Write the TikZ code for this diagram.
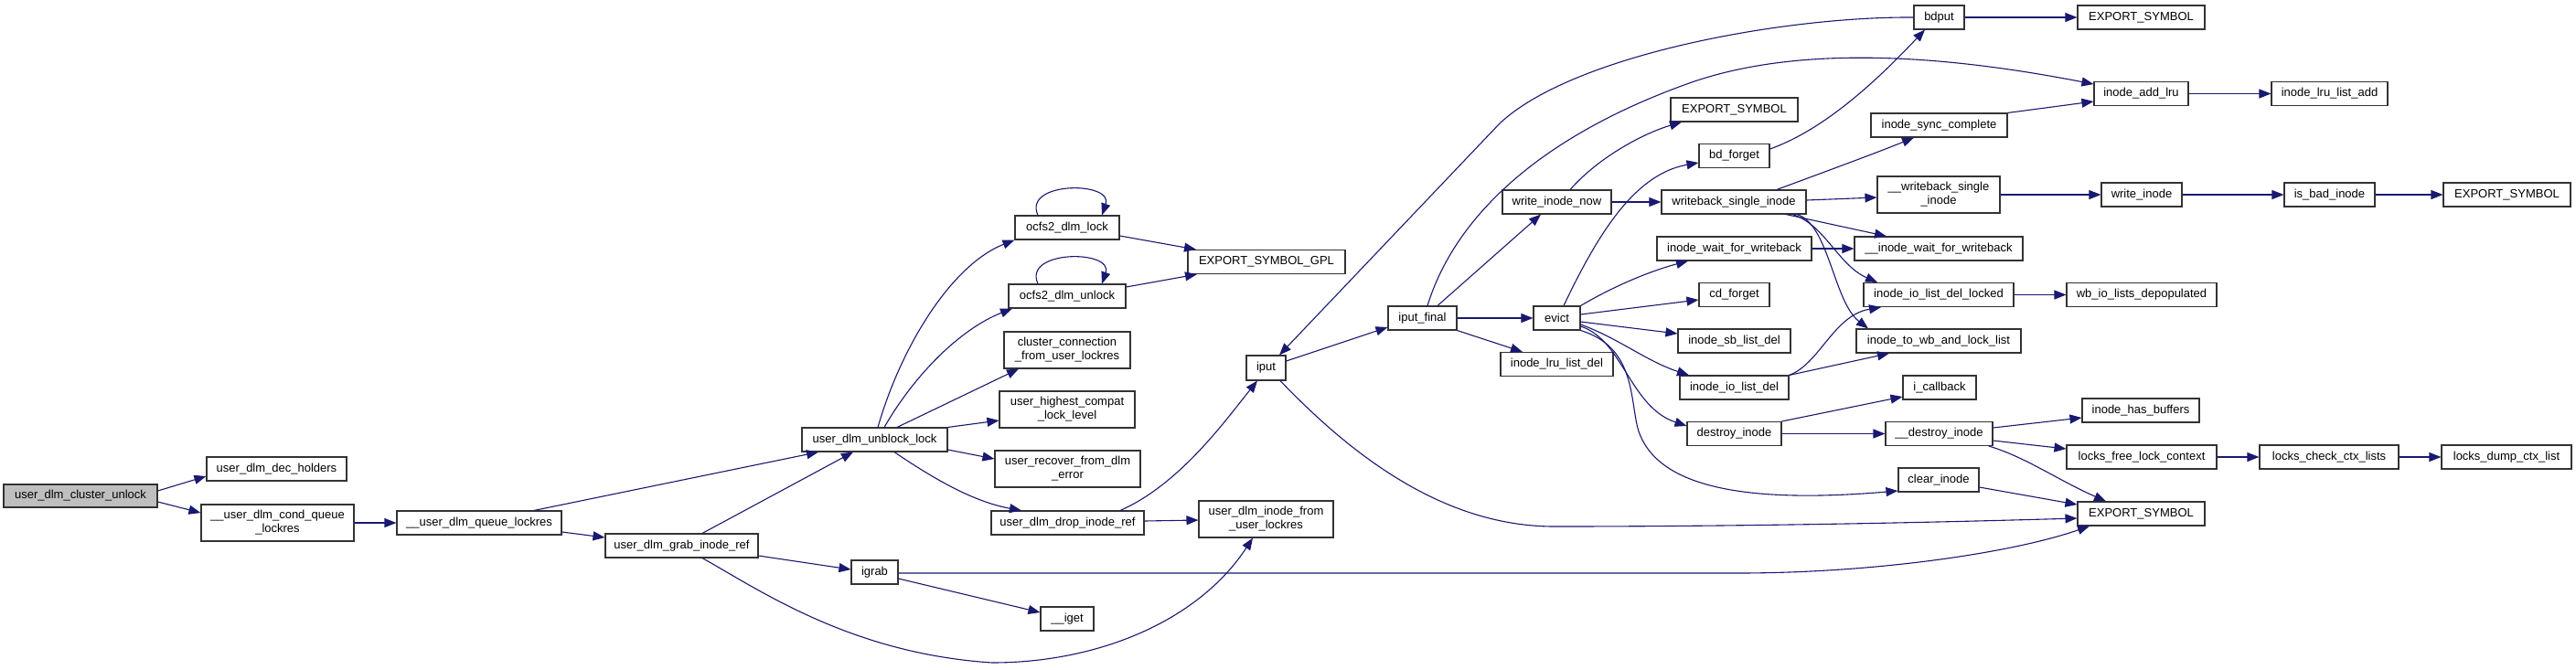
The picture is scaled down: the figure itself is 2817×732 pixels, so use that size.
\documentclass[tikz,border=0pt]{standalone}
\usepackage{fontspec}
\setmainfont{Liberation Sans}
\usetikzlibrary{arrows.meta}
\definecolor{edgec}{HTML}{191970}
\definecolor{rootfill}{HTML}{BFBFBF}
\definecolor{boxline}{HTML}{333333}
\tikzset{
  box/.style={draw=boxline, line width=1.1pt, fill=white, inner sep=0pt, align=center,
              font=\fontsize{13}{15}\selectfont},
  rootbox/.style={box, fill=rootfill},
  edge/.style={draw=edgec, line width=1.1pt, -{Triangle[length=13pt,width=10pt]}},
}
\newcommand{\bx}[6]{\node[box, minimum width=#4pt, minimum height=#5pt] (#1) at (#2,#3) {#6};}
\begin{document}
\begin{tikzpicture}[x=1pt,y=-1pt]
\useasboundingbox (0,0) rectangle (2817,732);
\fill[white] (0,0) rectangle (2817,732);
% nodes
\node[rootbox, minimum width=168pt, minimum height=25pt] (cu) at (88,542.5) {user\_dlm\_cluster\_unlock};
\bx{dh}{302.5}{513}{153}{26}{user\_dlm\_dec\_holders}
\bx{cq}{303.5}{572}{167}{40}{\_\_user\_dlm\_cond\_queue\\\_lockres}
\bx{ql}{524}{572}{180}{26}{\_\_user\_dlm\_queue\_lockres}
\bx{gi}{745.5}{597}{167}{26}{user\_dlm\_grab\_inode\_ref}
\bx{ub}{956.5}{481}{159}{26}{user\_dlm\_unblock\_lock}
\bx{cc}{1167}{383}{138}{40}{cluster\_connection\\\_from\_user\_lockres}
\bx{hc}{1167}{448}{148}{40}{user\_highest\_compat\\\_lock\_level}
\bx{rd}{1167.5}{513}{159}{40}{user\_recover\_from\_dlm\\\_error}
\bx{dr}{1167.5}{572}{167}{26}{user\_dlm\_drop\_inode\_ref}
\bx{uf}{1384.5}{568}{147}{40}{user\_dlm\_inode\_from\\\_user\_lockres}
\bx{ig}{956.5}{626}{51}{26}{igrab}
\bx{gt}{1167}{677}{58}{26}{\_\_iget}
\bx{ip}{1384.5}{402.5}{43}{27}{iput}
\bx{ol}{1167}{249}{114}{26}{ocfs2\_dlm\_lock}
\bx{ou}{1167}{324}{128}{26}{ocfs2\_dlm\_unlock}
\bx{eg}{1385}{286.5}{172}{26}{EXPORT\_SYMBOL\_GPL}
\bx{bp}{2120.5}{19}{55}{26}{bdput}
\bx{e1}{2341.5}{19}{139}{26}{EXPORT\_SYMBOL}
\bx{e2}{1896.5}{120}{139}{26}{EXPORT\_SYMBOL}
\bx{sc}{2120.5}{137}{149}{26}{inode\_sync\_complete}
\bx{al}{2341.5}{102.5}{103}{26}{inode\_add\_lru}
\bx{la}{2547.5}{102.5}{127}{26}{inode\_lru\_list\_add}
\bx{bf}{1896.5}{170.5}{77}{26}{bd\_forget}
\bx{wn}{1702.5}{221}{119}{26}{write\_inode\_now}
\bx{ws}{1896}{221}{158}{26}{writeback\_single\_inode}
\bx{wsi}{2120}{213}{134}{40}{\_\_writeback\_single\\\_inode}
\bx{wi}{2342}{213}{88}{26}{write\_inode}
\bx{bi}{2547.5}{213}{99}{26}{is\_bad\_inode}
\bx{e3}{2741.5}{213}{139}{26}{EXPORT\_SYMBOL}
\bx{ww}{1896.5}{272}{169}{26}{inode\_wait\_for\_writeback}
\bx{iww}{2120}{272}{184}{26}{\_\_inode\_wait\_for\_writeback}
\bx{cf}{1896.5}{322.5}{77}{26}{cd\_forget}
\bx{dl}{2120}{322.5}{164}{26}{inode\_io\_list\_del\_locked}
\bx{wb}{2342}{322.5}{164}{26}{wb\_io\_lists\_depopulated}
\bx{ipf}{1555.5}{348}{75}{26}{iput\_final}
\bx{ev}{1702.5}{348}{51}{26}{evict}
\bx{sb}{1896.5}{373}{123}{26}{inode\_sb\_list\_del}
\bx{tw}{2120}{373}{180}{26}{inode\_to\_wb\_and\_lock\_list}
\bx{ld}{1702.5}{398.5}{123}{26}{inode\_lru\_list\_del}
\bx{id}{1896.5}{424}{119}{26}{inode\_io\_list\_del}
\bx{cb}{2121}{424}{80}{26}{i\_callback}
\bx{hb}{2341}{449}{128}{26}{inode\_has\_buffers}
\bx{di}{1896.5}{474.5}{103}{26}{destroy\_inode}
\bx{dd}{2120.5}{474.5}{117}{26}{\_\_destroy\_inode}
\bx{fl}{2342}{500}{164}{26}{locks\_free\_lock\_context}
\bx{ck}{2547}{500}{152}{26}{locks\_check\_ctx\_lists}
\bx{dc}{2741}{500}{142}{26}{locks\_dump\_ctx\_list}
\bx{ci}{2120}{525}{88}{26}{clear\_inode}
\bx{e4}{2341.5}{562}{139}{26}{EXPORT\_SYMBOL}
% edges
\draw[edge] (cu.east |- 0,537) -- (dh.west |- 0,521);
\draw[edge] (cu.east |- 0,549) -- (cq.west |- 0,561);
\draw[edge] (cq.east) -- (ql.west);
\draw[edge] (ql.north -| 584,0) -- (ub.south -| 895,0);
\draw[edge] (ql.east |- 0,582) -- (gi.west |- 0,588);
\draw[edge] (gi.north -| 768,0) -- (ub.south -| 933,0);
\draw[edge] (gi.east |- 0,608) -- (ig.west |- 0,623);
\draw[edge] (gi.south -| 768,0) .. controls (830,645) and (930,715) .. (1085,725)
            .. controls (1200,725) and (1310,680) .. (uf.south -| 1370,0);
\draw[edge] (ub.north -| 960,0) .. controls (985,380) and (1040,290) .. (ol.south west);
\draw[edge] (ub.north -| 967,0) .. controls (1000,410) and (1050,360) .. (ou.south -| 1107,0);
\draw[edge] (ub.north -| 981,0) -- (cc.south -| 1114,0);
\draw[edge] (ub.north east) -- (hc.west |- 0,460);
\draw[edge] (ub.east |- 0,492) -- (rd.west |- 0,502);
\draw[edge] (ub.south -| 978,0) .. controls (1030,530) and (1070,550) .. (dr.north -| 1117,0);
\draw[edge] (ol.north -| 1135,0) .. controls (1118,198) and (1218,198) .. (ol.north -| 1205,0);
\draw[edge] (ol.east |- 0,258) -- (eg.north -| 1308,0);
\draw[edge] (ou.north -| 1135,0) .. controls (1118,273) and (1218,273) .. (ou.north -| 1205,0);
\draw[edge] (ou.east |- 0,314) -- (eg.south -| 1309,0);
\draw[edge] (dr.north -| 1225,0) .. controls (1290,530) and (1340,460) .. (ip.south -| 1375,0);
\draw[edge] (dr.east |- 0,570) -- (uf.west |- 0,569);
\draw[edge] (ig.east |- 0,627) -- (1900,627) .. controls (2050,627) and (2200,605) .. (e4.south -| 2285,0);
\draw[edge] (ig.east |- 0,633) -- (gt.west |- 0,670);
\draw[edge] (ip.east |- 0,395) -- (ipf.west |- 0,358);
\draw[edge] (ip.south -| 1400,0) .. controls (1480,500) and (1580,576) .. (1700,576)
            .. controls (1900,576) and (2100,572) .. (e4.west |- 0,567);
\draw[edge] (bp.west) .. controls (1950,18) and (1720,60) .. (1640,135) -- (ip.north -| 1399,0);
\draw[edge] (ipf.north -| 1561,0) .. controls (1590,240) and (1680,150) .. (1850,90)
            .. controls (1980,45) and (2150,65) .. (al.west |- 0,92);
\draw[edge] (ipf.north -| 1572,0) -- (wn.south -| 1685,0);
\draw[edge] (ipf.east) -- (ev.west);
\draw[edge] (ipf.south east) -- (ld.north -| 1665,0);
\draw[edge] (wn.north -| 1717,0) .. controls (1750,170) and (1800,145) .. (e2.south -| 1839,0);
\draw[edge] (wn.east) -- (ws.west);
\draw[edge] (ev.north -| 1710,0) .. controls (1750,250) and (1790,190) .. (bf.west |- 0,178);
\draw[edge] (bf.east |- 0,163) .. controls (2000,140) and (2060,80) .. (bp.south -| 2105,0);
\draw[edge] (ev.north east) .. controls (1770,310) and (1810,295) .. (ww.south -| 1846,0);
\draw[edge] (ev.east |- 0,344) -- (cf.west |- 0,328);
\draw[edge] (ev.east |- 0,352) -- (sb.west |- 0,365);
\draw[edge] (ev.east |- 0,355) .. controls (1770,370) and (1800,395) .. (id.north -| 1847,0);
\draw[edge] (ev.east |- 0,357) .. controls (1775,372) and (1782,445) .. (di.west |- 0,466);
\draw[edge] (ev.south east) .. controls (1790,380) and (1782,440) .. (1792,472)
            .. controls (1812,530) and (1900,552) .. (ci.west |- 0,537);
\draw[edge] (ws.north -| 1943,0) .. controls (1990,190) and (2050,168) .. (sc.south -| 2093,0);
\draw[edge] (ws.east |- 0,219) -- (wsi.west |- 0,216);
\draw[edge] (ws.south -| 1953,0) -- (iww.north -| 2063,0);
\draw[edge] (ws.south -| 1960,0) .. controls (1995,245) and (2010,290) .. (dl.north -| 2053,0);
\draw[edge] (ws.south -| 1965,0) .. controls (2000,245) and (2005,330) .. (tw.north -| 2043,0);
\draw[edge] (ww.east) -- (iww.west);
\draw[edge] (id.north east) .. controls (1990,398) and (2005,345) .. (dl.south -| 2057,0);
\draw[edge] (id.north east) -- (tw.south -| 2066,0);
\draw[edge] (di.north east) -- (cb.west |- 0,434);
\draw[edge] (di.east) -- (dd.west);
\draw[edge] (sc.north east) -- (al.west |- 0,111);
\draw[edge] (al.east) -- (la.west);
\draw[edge] (bp.east) -- (e1.west);
\draw[edge] (wsi.east) -- (wi.west);
\draw[edge] (wi.east) -- (bi.west);
\draw[edge] (bi.east) -- (e3.west);
\draw[edge] (dl.east) -- (wb.west);
\draw[edge] (dd.east |- 0,468) -- (hb.west |- 0,457);
\draw[edge] (dd.east |- 0,482) -- (fl.west |- 0,491);
\draw[edge] (dd.south -| 2175,0) .. controls (2215,500) and (2250,525) .. (e4.north -| 2303,0);
\draw[edge] (ci.east |- 0,533) -- (e4.west |- 0,552);
\draw[edge] (fl.east) -- (ck.west);
\draw[edge] (ck.east) -- (dc.west);
\end{tikzpicture}
\end{document}
